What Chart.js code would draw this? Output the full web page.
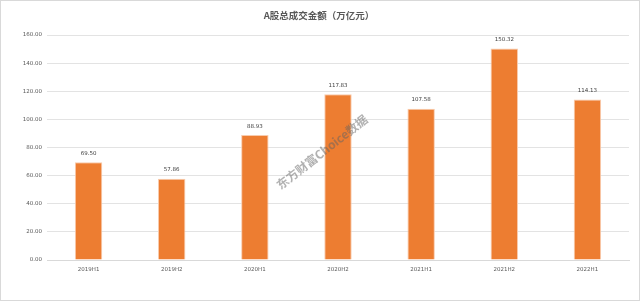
<!DOCTYPE html>
<html>
<head>
<meta charset="utf-8">
<script src="https://cdn.jsdelivr.net/npm/chart.js@4"></script>
<style>
  html, body { margin: 0; padding: 0; background: #fff; }
  #wrap { width: 640px; height: 301px; }
</style>
</head>
<body>
<div id="wrap"><canvas id="amountChart" width="640" height="301"></canvas></div>
<script>
const categories = ['2019H1', '2019H2', '2020H1', '2020H2', '2021H1', '2021H2', '2022H1'];
const amounts = [69.50, 57.86, 88.93, 117.83, 107.58, 150.32, 114.13];
const yTicks = [0, 20, 40, 60, 80, 100, 120, 140, 160];
const chartTitle = 'A股总成交金额（万亿元）';
const watermark = '东方财富Choice数据';

const decorPlugin = {
    id: 'decor',
    beforeDraw(chart) {
        const c = chart.ctx;
        c.save();
        c.fillStyle = '#fff';
        c.fillRect(0, 0, chart.width, chart.height);
        c.restore();
    },
    afterDatasetsDraw(chart) {
        const c = chart.ctx;
        c.save();
        // data labels
        c.fillStyle = '#404040';
        c.font = '5.5px "DejaVu Sans", sans-serif';
        c.textAlign = 'center';
        c.textBaseline = 'bottom';
        chart.getDatasetMeta(0).data.forEach(function (bar, i) {
            c.fillText(amounts[i].toFixed(2), bar.x, bar.y - 6);
        });
        // title
        c.fillStyle = '#595959';
        c.font = 'bold 9.5px "Noto Sans CJK SC", sans-serif';
        c.textBaseline = 'middle';
        c.fillText(chartTitle, 319, 15);
        // watermark
        c.translate(322, 152);
        c.rotate(-38 * Math.PI / 180);
        c.fillStyle = 'rgba(100,100,100,0.5)';
        c.font = 'bold 12px "Noto Sans CJK SC", sans-serif';
        c.fillText(watermark, 0, 0);
        c.restore();
        // frame
        c.save();
        c.strokeStyle = '#d9d9d9';
        c.lineWidth = 1;
        c.strokeRect(0.5, 0.5, chart.width - 1, chart.height - 1);
        c.restore();
    }
};

new Chart(document.getElementById('amountChart'), {
    type: 'bar',
    data: {
        labels: categories,
        datasets: [{
            data: amounts,
            backgroundColor: '#ED7D31',
            borderColor: '#F8CBAD',
            borderWidth: 1,
            categoryPercentage: 1,
            barPercentage: 0.33
        }]
    },
    options: {
        responsive: false,
        animation: false,
        layout: { padding: { left: 0, right: 11, top: 35, bottom: 0 } },
        plugins: {
            legend: { display: false },
            tooltip: { enabled: false }
        },
        scales: {
            x: {
                grid: { display: false, drawTicks: false },
                border: { color: '#d9d9d9' },
                ticks: {
                    color: '#595959',
                    font: { size: 5.5, family: 'DejaVu Sans' },
                    padding: 6,
                    maxRotation: 0
                },
                afterFit(axis) { axis.height = 41; }
            },
            y: {
                min: 0,
                max: 160,
                afterBuildTicks(axis) { axis.ticks = yTicks.map(v => ({ value: v })); },
                grid: { color: '#e3e3e3', drawTicks: false },
                border: { display: false },
                ticks: {
                    color: '#595959',
                    font: { size: 5.5, family: 'DejaVu Sans' },
                    padding: 5,
                    callback: v => Number(v).toFixed(2)
                },
                afterFit(axis) { axis.width = 47; }
            }
        }
    },
    plugins: [decorPlugin]
});
</script>
</body>
</html>
